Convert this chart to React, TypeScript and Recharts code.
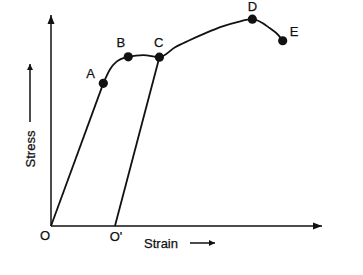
import {
  ComposedChart,
  Line,
  Scatter,
  XAxis,
  YAxis,
  Label,
} from "recharts";

// named points on the curve
const pointNames = ["A", "B", "C", "D", "E"];
const pointStrain = [19.3, 28.5, 40.0, 74.3, 85.5];
const pointStress = [67.6, 80.2, 80.0, 98.0, 87.8];

// O -> A, straight elastic part
const elasticStrain = [0, 19.3];
const elasticStress = [0, 67.6];

// A -> B -> C -> D -> E
const plasticStrain = [19.3, 21.8, 24.2, 28.5, 34.1, 40.0, 45.8, 50.7, 56.8, 63.0, 69.1, 74.3, 80.8, 83.9, 85.5];
const plasticStress = [67.6, 74.3, 77.9, 80.2, 81.0, 80.0, 84.7, 87.8, 91.3, 94.5, 96.8, 98.0, 93.7, 90.5, 87.8];

// unloading C -> O'
const unloadStrain = [23.6, 40.0];
const unloadStress = [0, 80.0];

// points on the strain axis
const originNames = ["O", "O'"];
const originStrain = [0, 23.6];
const originStress = [0, 0];

const toRows = (xs: number[], ys: number[], names?: string[]) =>
  xs.map((x, i) => ({ strain: x, stress: ys[i], name: names ? names[i] : "" }));

const points = toRows(pointStrain, pointStress, pointNames);
const elastic = toRows(elasticStrain, elasticStress);
const plastic = toRows(plasticStrain, plasticStress);
const unload = toRows(unloadStrain, unloadStress);
const origins = toRows(originStrain, originStress, originNames);

const INK = "#111";
const FONT = "'Liberation Sans', Arial, sans-serif";

// where each letter sits relative to its point
const labelOffset: Record<string, [number, number]> = {
  A: [-12.6, -10],
  B: [-7.3, -14],
  C: [-0.6, -14.6],
  D: [0, -13],
  E: [11.3, -9],
  O: [-6, 9],
  "O'": [1, 10.7],
};

const textStyle = {
  fontSize: 13,
  fontFamily: FONT,
  fill: INK,
  stroke: INK,
  strokeWidth: 0.25,
};

function PointShape(props: any) {
  const { cx, cy, payload, dot } = props;
  const [dx, dy] = labelOffset[payload.name] || [0, 0];
  return (
    <g>
      {dot && <circle cx={cx} cy={cy} r={4.6} fill={INK} />}
      <text x={cx + dx} y={cy + dy} textAnchor="middle" dominantBaseline="central" {...textStyle}>
        {payload.name}
      </text>
    </g>
  );
}

// axis title + arrow heads on the axis ends
function StrainLabel(props: any) {
  const { x, y, width } = props.viewBox;
  const ty = y + 17;
  const ex = x + width;
  return (
    <g>
      <path d={`M${ex},${y} L${ex - 9},${y - 3.5} L${ex - 9},${y + 3.5} z`} fill={INK} />
      <text x={x + 110} y={ty} textAnchor="middle" dominantBaseline="central" {...textStyle}>
        Strain
      </text>
      <line x1={x + 139} y1={ty} x2={x + 164} y2={ty} stroke={INK} strokeWidth={1.5} markerEnd="url(#smallArrow)" />
    </g>
  );
}

function StressLabel(props: any) {
  const { x, y, width } = props.viewBox;
  const tx = x + 19;
  const ax = x + width;
  return (
    <g>
      <path d={`M${ax},${y} L${ax - 3.5},${y + 9} L${ax + 3.5},${y + 9} z`} fill={INK} />
      <text
        x={tx}
        y={y + 134}
        transform={`rotate(-90 ${tx} ${y + 134})`}
        textAnchor="middle"
        dominantBaseline="central"
        {...textStyle}
      >
        Stress
      </text>
      <line x1={tx} y1={y + 107} x2={tx} y2={y + 49} stroke={INK} strokeWidth={1.5} markerEnd="url(#smallArrow)" />
    </g>
  );
}

export default function App() {
  return (
    <div style={{ position: "absolute", left: 0, top: 0, width: 363, height: 275, background: "#fff" }}>
      <ComposedChart width={363} height={275} margin={{ top: 15, right: 41, left: 11, bottom: 19 }}>
        <defs>
          <marker id="smallArrow" viewBox="0 0 10 10" refX="10" refY="5" markerWidth="8" markerHeight="6" markerUnits="userSpaceOnUse" orient="auto">
            <path d="M0,0 L10,5 L0,10 z" fill={INK} />
          </marker>
        </defs>

        <XAxis
          type="number"
          dataKey="strain"
          domain={[0, 100]}
          height={30}
          tick={false}
          tickLine={false}
          axisLine={{ stroke: INK, strokeWidth: 1.5 }}
        >
          <Label content={<StrainLabel />} />
        </XAxis>
        <YAxis
          type="number"
          dataKey="stress"
          domain={[0, 100]}
          width={40}
          tick={false}
          tickLine={false}
          axisLine={{ stroke: INK, strokeWidth: 1.5 }}
        >
          <Label content={<StressLabel />} />
        </YAxis>

        <Line data={elastic} dataKey="stress" type="linear" stroke={INK} strokeWidth={1.8} dot={false} isAnimationActive={false} />
        <Line data={plastic} dataKey="stress" type="monotone" stroke={INK} strokeWidth={1.8} dot={false} isAnimationActive={false} />
        <Line data={unload} dataKey="stress" type="linear" stroke={INK} strokeWidth={1.8} dot={false} isAnimationActive={false} />

        <Scatter data={points} shape={<PointShape dot />} isAnimationActive={false} />
        <Scatter data={origins} shape={<PointShape />} isAnimationActive={false} />
      </ComposedChart>
    </div>
  );
}
